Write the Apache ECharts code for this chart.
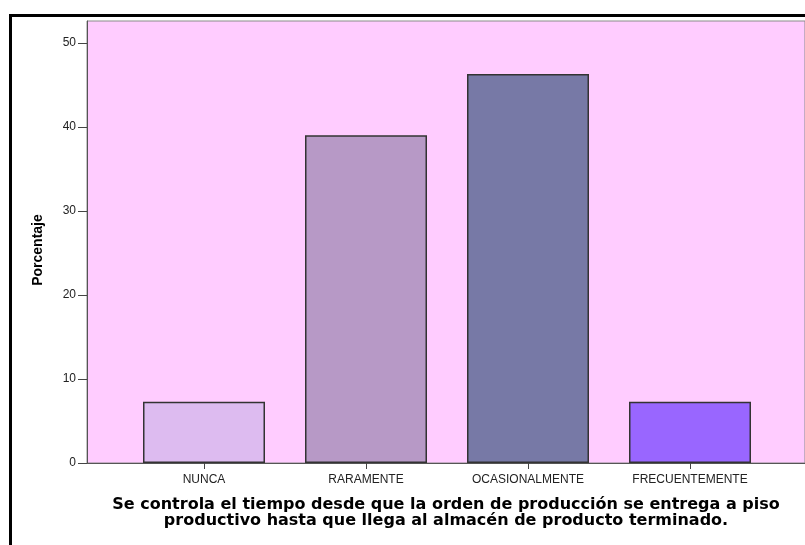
<!DOCTYPE html>
<html>
<head>
<meta charset="utf-8">
<script src="https://cdn.jsdelivr.net/npm/echarts@6/dist/echarts.min.js"></script>
<style>
  html, body { margin: 0; padding: 0; background: #fff; }
  #chart { width: 805px; height: 545px; }
</style>
</head>
<body>
<div id="chart"></div>
<script>
// categories and percentages
const categories = ['NUNCA', 'RARAMENTE', 'OCASIONALMENTE', 'FRECUENTEMENTE']
const percentages = [7.3, 39.0, 46.3, 7.3]
const barColors = ['#DDBBF0', '#B799C6', '#7779A6', '#9966FF']
const yTicks = [0, 10, 20, 30, 40, 50]

const xTitle = 'Se controla el tiempo desde que la orden de producción se entrega a piso\nproductivo hasta que llega al almacén de producto terminado.'

const font = 'Liberation Sans, Arial, sans-serif'
const yMax = 52.6

const chart = echarts.init(document.getElementById('chart'), null, { renderer: 'canvas' })

chart.setOption({
  animation: false,
  backgroundColor: '#FFFFFF',
  textStyle: { fontFamily: font },
  graphic: [{
    // outer frame (top + left edges only visible)
    type: 'polyline',
    shape: { points: [[10.5, 545], [10.5, 15.5], [805, 15.5]] },
    style: { stroke: '#000', lineWidth: 3, fill: null }
  }],
  grid: [
    // background plot frame
    { left: 87, top: 21, right: -4, bottom: 82, show: true, backgroundColor: '#FFCCFF', borderColor: '#8A8A8A', borderWidth: 1 },
    // bar band area
    { left: 123, top: 21, width: 648, bottom: 82 }
  ],
  xAxis: [
    {
      gridIndex: 0,
      type: 'value',
      min: 0,
      max: 1,
      axisLine: { show: true, lineStyle: { color: '#555', width: 1 } },
      axisTick: { show: false },
      axisLabel: { show: false },
      splitLine: { show: false },
      name: xTitle,
      nameLocation: 'middle',
      nameGap: 34,
      nameTextStyle: { fontFamily: 'DejaVu Sans, sans-serif', fontWeight: 'bold', fontSize: 16, color: '#000', lineHeight: 16 }
    },
    {
      gridIndex: 1,
      type: 'category',
      data: categories,
      axisLine: { show: false },
      axisTick: { show: true, alignWithLabel: true, length: 6, lineStyle: { color: '#444' } },
      axisLabel: { color: '#222', fontSize: 12, margin: 11 }
    }
  ],
  yAxis: [
    {
      gridIndex: 0,
      type: 'value',
      min: 0,
      max: yMax,
      axisLine: { show: true, lineStyle: { color: '#555' } },
      axisTick: { show: true, length: 9, customValues: yTicks, lineStyle: { color: '#444' } },
      axisLabel: { color: '#222', fontSize: 12, margin: 11, customValues: yTicks },
      splitLine: { show: false },
      name: 'Porcentaje',
      nameLocation: 'middle',
      nameGap: 42,
      nameTextStyle: { fontWeight: 'bold', fontSize: 14, color: '#000', padding: [0, 16, 0, 0] }
    },
    {
      gridIndex: 1,
      type: 'value',
      min: 0,
      max: yMax,
      show: false,
      splitLine: { show: false }
    }
  ],
  series: [{
    type: 'bar',
    xAxisIndex: 1,
    yAxisIndex: 1,
    barWidth: 122,
    data: percentages.map((v, i) => ({
      value: v,
      itemStyle: { color: barColors[i], borderColor: '#333', borderWidth: 1.5 }
    }))
  }]
})
</script>
</body>
</html>
